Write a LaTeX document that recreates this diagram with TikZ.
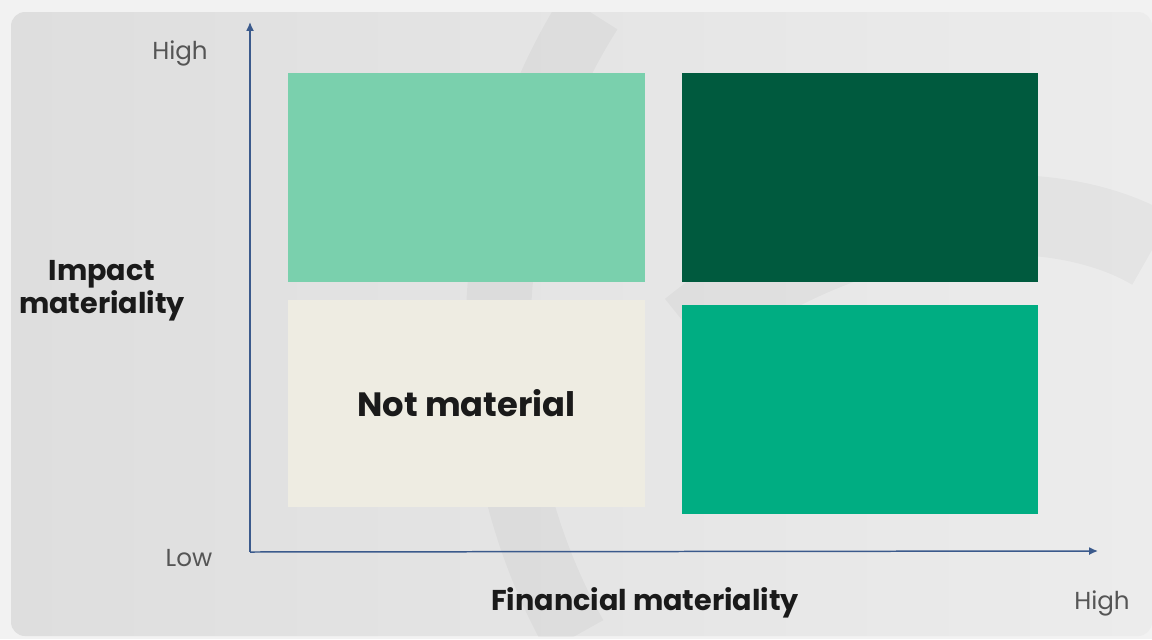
\documentclass[tikz,border=0pt]{standalone}
\usepackage{fontspec}
\setmainfont{Poppins}
\usetikzlibrary{arrows.meta}

\definecolor{panelgrey}{HTML}{DEDEDE}
\definecolor{panellight}{HTML}{ECECEC}
\definecolor{axisblue}{HTML}{3B5A8C}
\definecolor{mintgreen}{HTML}{7AD0AD}
\definecolor{darkgreen}{HTML}{005A3E}
\definecolor{midgreen}{HTML}{00AD82}
\definecolor{offwhite}{HTML}{EEECE2}
\definecolor{labelgrey}{HTML}{555555}
\definecolor{textblack}{HTML}{1A1A1A}

\tikzset{
    quadrant/.style={inner sep=0pt, outer sep=0pt, minimum width=7.14cm, minimum height=4.18cm},
    axis/.style={draw=axisblue, line width=0.85pt, -{Latex[length=5pt, width=4.5pt]}},
    level/.style={text=labelgrey, font=\fontsize{14}{16}\selectfont},
    axistitle/.style={text=textblack, font=\bfseries\fontsize{16.3}{19}\selectfont, align=center},
}

\begin{document}
\begin{tikzpicture}[x=0.02cm, y=-0.02cm]
    \useasboundingbox (0,0) rectangle (1152,639);
    % background
    \fill[white!95!black] (0,0) rectangle (1152,639);
    \shade[left color=panelgrey, right color=panellight, rounded corners=8pt] (11,12) rectangle (1152,636);
    \begin{scope}
        \clip (11,12) rectangle (1152,636);
        \draw[black, opacity=0.03, line width=1.3cm] (590,12) .. controls (470,200) and (470,450) .. (575,636);
        \draw[black, opacity=0.03, line width=1.6cm] (690,330) .. controls (850,200) and (1050,190) .. (1152,250);
    \end{scope}

    % quadrants
    \node[quadrant, fill=mintgreen] (q1) at (466.5,177.5) {};
    \node[quadrant, fill=darkgreen] (q2) at (860,177.5) {};
    \node[quadrant, fill=offwhite, minimum height=4.14cm, text=textblack,
          font=\bfseries\fontsize{19.2}{22}\selectfont] (q3) at (466.5,403.5) {Not material};
    \node[quadrant, fill=midgreen] (q4) at (860,409.5) {};

    % axes
    \coordinate (origin) at (250,552);
    \coordinate (ytip) at (250,22);
    \coordinate (xtip) at (1098,551);
    \draw[axis] (origin) -- (ytip);
    \draw[axis] (origin) -- (xtip);

    % labels
    \node[level] (yhigh) at (180,53) {High};
    \node[level] (ylow) at (189,558) {Low};
    \node[level] (xhigh) at (1102,603) {High};
    \node[axistitle] (impact) at (102,291) {Impact\\materiality};
    \node[axistitle] (financial) at (645,603) {Financial materiality};
\end{tikzpicture}
\end{document}
